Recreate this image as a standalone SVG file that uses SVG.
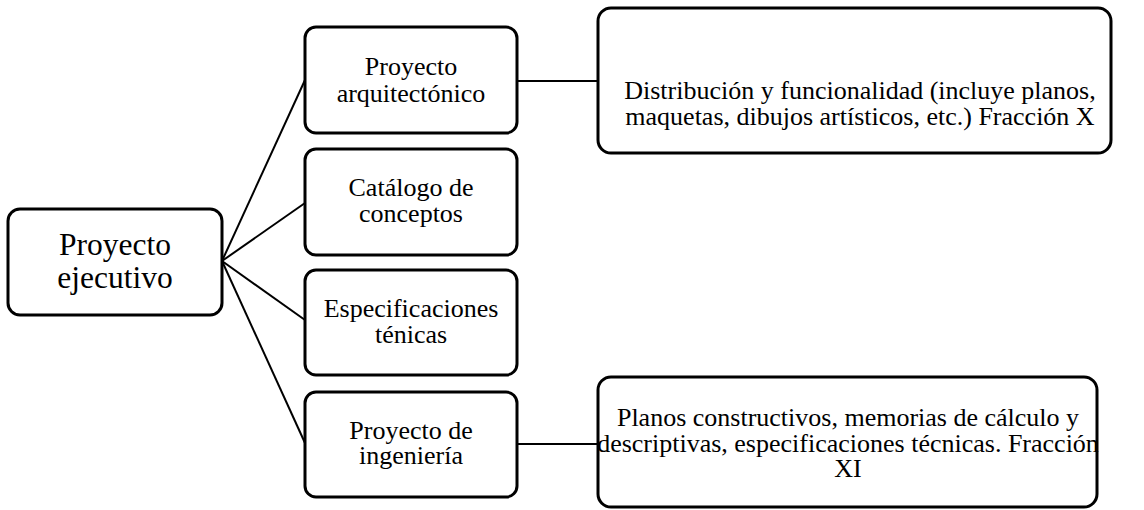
<svg xmlns="http://www.w3.org/2000/svg" width="1144" height="510" viewBox="0 0 1144 510">
<style>
.box{fill:#fff;stroke:#000;stroke-width:3}
.t{fill:#000;text-anchor:middle}
.m{font-size:26px}
.r{font-size:31.5px}
.c{stroke:#000;stroke-width:2;fill:none}
</style>
<rect width="1144" height="510" fill="#fff"/>
<g id="connectors">
<line class="c" x1="222" y1="261" x2="305" y2="80"/>
<line class="c" x1="222" y1="261" x2="305" y2="203"/>
<line class="c" x1="222" y1="261" x2="305" y2="320"/>
<line class="c" x1="222" y1="261" x2="305" y2="443"/>
<line class="c" x1="517" y1="81" x2="598" y2="81"/>
<line class="c" x1="517" y1="444" x2="598" y2="444"/>
</g>
<g font-family="'Liberation Serif', 'DejaVu Serif', serif">
<g id="root">
<rect class="box" x="8" y="209" width="214" height="106" rx="12"/>
<text class="t r" x="115" y="255">Proyecto</text>
<text class="t r" x="115" y="288">ejecutivo</text>
</g>
<g id="arq">
<rect class="box" x="305" y="27" width="212" height="106" rx="11"/>
<text class="t m" x="411" y="75">Proyecto</text>
<text class="t m" x="411" y="102">arquitectónico</text>
</g>
<g id="cat">
<rect class="box" x="305" y="149" width="212" height="106" rx="11"/>
<text class="t m" x="411" y="196">Catálogo de</text>
<text class="t m" x="411" y="222">conceptos</text>
</g>
<g id="esp">
<rect class="box" x="305" y="270" width="212" height="105" rx="11"/>
<text class="t m" x="411" y="317">Especificaciones</text>
<text class="t m" x="411" y="343">ténicas</text>
</g>
<g id="ing">
<rect class="box" x="305" y="392" width="212" height="105" rx="11"/>
<text class="t m" x="411" y="439">Proyecto de</text>
<text class="t m" x="411" y="464">ingeniería</text>
</g>
<g id="dist">
<rect class="box" x="598" y="8" width="513" height="145" rx="13"/>
<text class="t m" x="860" y="99">Distribución y funcionalidad (incluye planos,</text>
<text class="t m" x="860" y="125">maquetas, dibujos artísticos, etc.) Fracción X</text>
</g>
<g id="planos">
<rect class="box" x="598" y="377" width="499" height="130" rx="13"/>
<text class="t m" x="848" y="426">Planos constructivos, memorias de cálculo y</text>
<text class="t m" x="848" y="452">descriptivas, especificaciones técnicas. Fracción</text>
<text class="t m" x="848" y="477">XI</text>
</g>
</g>
</svg>
